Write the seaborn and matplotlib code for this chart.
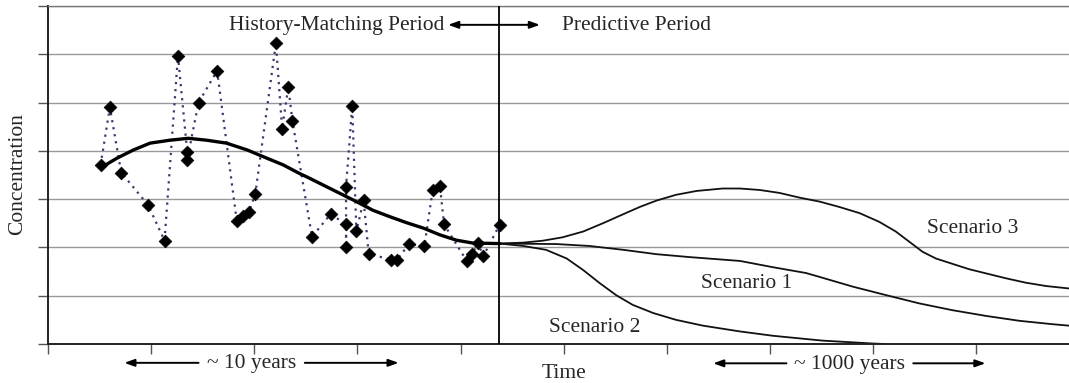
import numpy as np
import pandas as pd
import matplotlib
matplotlib.use("Agg")
import matplotlib.pyplot as plt
import seaborn as sns

# Observed concentrations during the history-matching period (time, concentration)
obs_time = [0.51, 0.60, 0.71, 0.97, 1.13, 1.26, 1.35, 1.35, 1.46, 1.64,
            1.83, 1.89, 1.95, 2.01, 2.21, 2.27, 2.33, 2.37, 2.56, 2.74,
            2.89, 2.89, 2.89, 2.95, 2.99, 3.06, 3.11, 3.33, 3.38, 3.50,
            3.65, 3.73, 3.80, 3.84, 4.06, 4.11, 4.17, 4.22, 4.38]
obs_conc = [3.71, 4.90, 3.55, 2.88, 2.14, 5.97, 3.98, 3.82, 5.00, 5.66,
            2.55, 2.65, 2.74, 3.11, 6.23, 4.46, 5.32, 4.62, 2.22, 2.69,
            2.48, 2.01, 3.26, 4.93, 2.33, 2.98, 1.86, 1.75, 1.73, 2.07,
            2.03, 3.19, 3.28, 2.48, 1.72, 1.86, 2.09, 1.82, 2.47]

# Calibrated model trend
fit_time = [0.52, 0.67, 0.83, 0.99, 1.18, 1.36, 1.54, 1.73, 1.93, 2.12,
            2.28, 2.44, 2.51, 2.67, 2.83, 2.99, 3.15, 3.31, 3.48, 3.64,
            3.80, 3.96, 4.12, 4.38]
fit_conc = [3.66, 3.85, 4.02, 4.16, 4.22, 4.26, 4.22, 4.16, 4.02, 3.85,
            3.71, 3.53, 3.46, 3.29, 3.12, 2.95, 2.77, 2.64, 2.51, 2.40,
            2.26, 2.15, 2.09, 2.08]

# Predictive scenarios
s1_time = [4.38, 4.93, 5.25, 5.58, 5.90, 6.22, 6.71, 7.03, 7.35, 7.48,
           7.80, 8.13, 8.45, 8.77, 9.10, 9.42, 9.74, 9.90]
s1_conc = [2.08, 2.07, 2.03, 1.95, 1.86, 1.80, 1.72, 1.59, 1.47, 1.39,
           1.19, 1.01, 0.84, 0.70, 0.58, 0.48, 0.41, 0.38]

s2_time = [4.38, 4.61, 4.83, 5.03, 5.19, 5.35, 5.51, 5.67, 5.87, 6.09,
           6.35, 6.71, 7.03, 7.51, 8.00, 8.11]
s2_conc = [2.08, 2.03, 1.95, 1.77, 1.53, 1.26, 1.01, 0.81, 0.64, 0.50,
           0.38, 0.26, 0.17, 0.07, 0.01, 0.0]

s3_time = [4.38, 4.61, 4.80, 4.99, 5.19, 5.38, 5.58, 5.74, 5.90, 6.09,
           6.29, 6.54, 6.71, 6.90, 7.09, 7.29, 7.48, 7.67, 7.87, 8.06,
           8.22, 8.35, 8.48, 8.61, 8.77, 8.93, 9.10, 9.29, 9.48, 9.68, 9.90]
s3_conc = [2.08, 2.10, 2.14, 2.21, 2.33, 2.50, 2.69, 2.84, 2.97, 3.09,
           3.17, 3.22, 3.22, 3.19, 3.13, 3.03, 2.95, 2.84, 2.71, 2.53,
           2.33, 2.12, 1.91, 1.77, 1.66, 1.55, 1.46, 1.36, 1.27, 1.20, 1.15]

scenario_labels = ["Scenario 1", "Scenario 2", "Scenario 3"]
boundary_time = 4.37

sns.set_theme(style="white")
plt.rcParams["font.family"] = ["Liberation Serif", "DejaVu Serif"]

fig = plt.figure(figsize=(10.69, 3.83), dpi=100)
ax = fig.add_axes([48 / 1069, 39 / 383, 1 - 48 / 1069, 338 / 383])

obs = pd.DataFrame({"time": obs_time, "conc": obs_conc})
fit = pd.DataFrame({"time": fit_time, "conc": fit_conc})

sns.lineplot(data=obs, x="time", y="conc", sort=False, estimator=None,
             color="#3a3a6a", linestyle=(0, (1, 2.2)), linewidth=1.6, ax=ax)
sns.scatterplot(data=obs, x="time", y="conc", marker="D", s=42,
                color="black", edgecolor="black", linewidth=0.5, ax=ax, zorder=4)
sns.lineplot(data=fit, x="time", y="conc", estimator=None, color="black",
             linewidth=2.4, ax=ax, zorder=5)

for t, c in [(s1_time, s1_conc), (s2_time, s2_conc), (s3_time, s3_conc)]:
    sns.lineplot(x=t, y=c, estimator=None, sort=False, color="#111111",
                 linewidth=1.3, ax=ax)

ax.axvline(boundary_time, color="black", linewidth=1.3, zorder=3)

ax.set_xlim(0, 9.9)
ax.set_ylim(0, 7)
ax.set_xticks(np.arange(0, 10))
ax.set_yticks(np.arange(0, 8))
ax.set_xticklabels([])
ax.set_yticklabels([])
ax.set_xlabel("")
ax.set_ylabel("")
ax.yaxis.grid(True, color="#999999", linewidth=1.0)
ax.tick_params(axis="both", which="major", direction="out", length=7,
               width=1.0, colors="#555555", left=True, bottom=True)
ax.spines["right"].set_visible(False)
ax.spines["top"].set_color("#777777")
ax.spines["top"].set_linewidth(1.0)
for side in ("left", "bottom"):
    ax.spines[side].set_color("#222222")
    ax.spines[side].set_linewidth(1.4)

fs = 15.5
ax.text(2.80, 6.60, "History-Matching Period", ha="center", va="center", fontsize=fs)
ax.text(5.71, 6.60, "Predictive Period", ha="center", va="center", fontsize=fs)
ax.annotate("", xy=(3.88, 6.61), xytext=(4.77, 6.61),
            arrowprops=dict(arrowstyle="<|-|>,head_length=0.5,head_width=0.18",
                            color="black", lw=1.4, shrinkA=0, shrinkB=0))

ax.text(8.97, 2.40, scenario_labels[2], ha="center", va="center", fontsize=fs)
ax.text(6.77, 1.26, scenario_labels[0], ha="center", va="center", fontsize=fs)
ax.text(5.30, 0.35, scenario_labels[1], ha="center", va="center", fontsize=fs)

arrow_kw = dict(arrowstyle="-|>,head_length=0.5,head_width=0.18", color="black",
                lw=1.4, shrinkA=0, shrinkB=0)
ax.text(1.97, -0.40, "~ 10 years", ha="center", va="center", fontsize=fs, clip_on=False)
ax.annotate("", xy=(0.74, -0.39), xytext=(1.46, -0.39), arrowprops=arrow_kw,
            annotation_clip=False)
ax.annotate("", xy=(3.40, -0.39), xytext=(2.49, -0.39), arrowprops=arrow_kw,
            annotation_clip=False)

ax.text(7.77, -0.42, "~ 1000 years", ha="center", va="center", fontsize=fs, clip_on=False)
ax.annotate("", xy=(6.45, -0.40), xytext=(7.16, -0.40), arrowprops=arrow_kw,
            annotation_clip=False)
ax.annotate("", xy=(9.09, -0.40), xytext=(8.39, -0.40), arrowprops=arrow_kw,
            annotation_clip=False)

ax.text(5.0, -0.62, "Time", ha="center", va="center", fontsize=fs, clip_on=False)
fig.text(18 / 1069, 1 - 174 / 383, "Concentration", rotation=90,
         ha="center", va="center", fontsize=fs)

fig.savefig("out.png", dpi=100)
